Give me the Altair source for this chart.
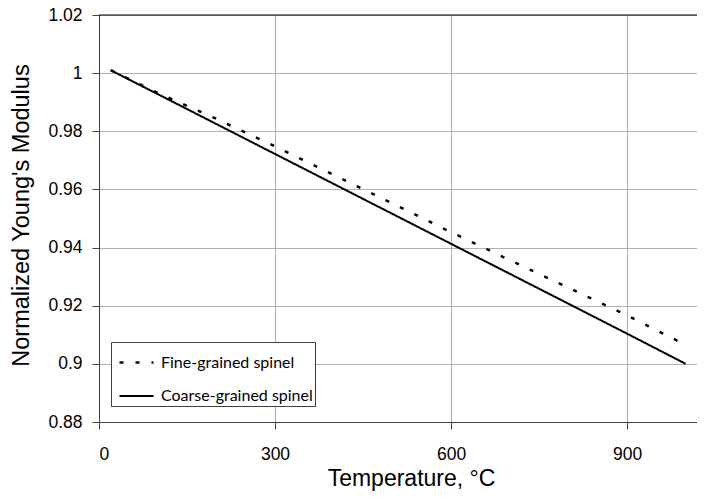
import altair as alt
import pandas as pd

# ---- data ----
temps = [20, 100, 200, 300, 400, 500, 600, 700, 800, 900, 1000]
fine = [1.001, 0.9932, 0.9843, 0.9748, 0.9650, 0.9552, 0.9453, 0.9357, 0.9262, 0.9167, 0.9065]
coarse = [1.001, 0.9928, 0.9825, 0.9722, 0.9619, 0.9516, 0.9413, 0.9310, 0.9207, 0.9104, 0.9000]
series_names = ["Fine-grained spinel", "Coarse-grained spinel"]
x_ticks = [0, 300, 600, 900]
y_ticks = [0.88, 0.90, 0.92, 0.94, 0.96, 0.98, 1.00, 1.02]
x_title = "Temperature, °C"
y_title = "Normalized Young's Modulus"

rows = []
for t, v in zip(temps, fine):
    rows.append({"T": t, "E": v, "s": series_names[0]})
for t, v in zip(temps, coarse):
    rows.append({"T": t, "E": v, "s": series_names[1]})
df = pd.DataFrame(rows)
top_df = pd.DataFrame({"E": [max(y_ticks)]})

W, H = 598, 407
AX = "#404040"

xscale = alt.Scale(domain=[0, 1019.3], nice=False, zero=False)
yscale = alt.Scale(domain=[min(y_ticks), max(y_ticks)], nice=False, zero=False)

lines = alt.Chart(df).mark_line(color="black").encode(
    x=alt.X("T:Q", scale=xscale, axis=alt.Axis(
        values=x_ticks, format="d", title=x_title,
        labelFont="Liberation Sans", labelFontSize=17.5, labelColor="black",
        labelPadding=16, ticks=True, tickSize=7, tickColor=AX, domainColor=AX,
        grid=True, gridColor="#b0b0b0",
        titleFont="Liberation Sans", titleFontSize=23, titleFontWeight="normal",
        titleColor="black", titleX=312, titleY=63, titleBaseline="alphabetic",
        titleAlign="center")),
    y=alt.Y("E:Q", scale=yscale, axis=alt.Axis(
        values=y_ticks, format=".2~f", title=y_title,
        labelFont="Liberation Sans", labelFontSize=17.5, labelColor="black",
        labelPadding=10, ticks=True, tickSize=7, tickColor=AX, domainColor=AX,
        grid=True, gridColor="#b0b0b0",
        titleFont="Liberation Sans", titleFontSize=23.5, titleFontWeight="normal",
        titleColor="black", titleX=-71, titleY=200, titleBaseline="alphabetic",
        titleAlign="center")),
    strokeDash=alt.StrokeDash("s:N", scale=alt.Scale(domain=series_names, range=[[4, 12], [1, 0]]),
        legend=alt.Legend(
            orient="none", legendX=12, legendY=327, title=None,
            fillColor="white", strokeColor=AX, padding=2,
            symbolType="stroke", symbolSize=1156, symbolStrokeColor="black",
            symbolStrokeWidth=2, symbolOffset=5, labelOffset=6,
            labelFont="Lato", labelFontSize=16, labelColor="black",
            rowPadding=7, labelExpr="datum.label + '\u00a0\u00a0'")),
    strokeWidth=alt.StrokeWidth("s:N", scale=alt.Scale(domain=series_names, range=[2.5, 2]), legend=None),
)

top = alt.Chart(top_df).mark_rule(color="black", strokeWidth=1).encode(y=alt.Y("E:Q", scale=yscale))

chart = alt.layer(lines, top).properties(
    width=W, height=H,
    autosize=alt.AutoSizeParams(type="none"),
    padding={"left": 91, "top": 7, "right": 0, "bottom": 69},
).configure_view(stroke=None).configure(background="white")

chart.save("out.html", embed_options={"renderer": "svg", "actions": False})
